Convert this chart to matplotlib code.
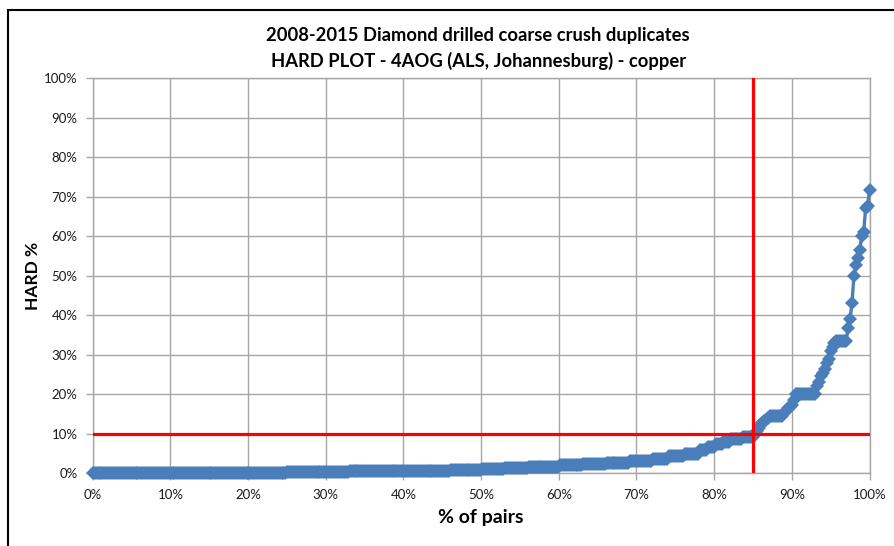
import matplotlib
matplotlib.use("Agg")
import matplotlib.pyplot as plt
import numpy as np
from matplotlib.patches import Rectangle
from matplotlib.ticker import PercentFormatter

plt.rcParams['font.family'] = ['Lato', 'DejaVu Sans']

# sorted HARD values (%) as runs: value, number of pairs
hard_vals = [0.0, 0.25, 0.55, 0.9,
             1.1, 1.4, 1.7, 2.0, 2.3, 2.7, 3.2, 3.7, 4.3, 5.0,
             5.8, 6.6, 7.4, 8.0, 8.7, 9.1,
             10.0, 10.8, 11.5, 12.2, 12.8, 13.2, 13.6, 14.0, 14.5,
             15.2, 15.8, 16.4, 16.8, 17.2, 18.5, 20.0,
             22.0, 23.0, 24.5, 25.3, 26.5, 27.8, 29.0, 31.0,
             32.0, 33.0, 33.5, 36.7, 39.0, 43.0,
             50.0, 52.6, 54.4, 56.5, 60.0, 61.0, 67.0, 67.6, 71.6]
hard_counts = [100, 32, 52, 16,
               12, 12, 16, 12, 12, 12, 12, 8, 8, 8,
               4, 4, 4, 4, 6, 6,
               1, 1, 1, 1, 1, 1, 1, 1, 7,
               1, 1, 1, 1, 1, 1, 11,
               1, 1, 1, 1, 1, 1, 1, 1,
               1, 1, 6, 1, 1, 1,
               1, 1, 1, 1, 1, 1, 1, 1, 1]

hard_limit = 10   # % HARD threshold
pairs_limit = 85  # % of pairs

hard = np.repeat(hard_vals, hard_counts)
pairs = np.arange(len(hard)) / (len(hard) - 1) * 100

fig = plt.figure(figsize=(8.94, 5.46), dpi=100)
ax = fig.add_axes([0.1037, 0.1332, 0.8689, 0.7239])

# outer chart border
fig.patches.append(Rectangle((7.5 / 894, -0.1), 1.2, 1 - 9.5 / 546 + 0.1,
                             transform=fig.transFigure, fill=False,
                             edgecolor='black', linewidth=1.5))

ax.plot(pairs, hard, color='#4A7EBB', linewidth=2.4, marker='D',
        markersize=7, markeredgewidth=0, zorder=3, clip_on=False)
ax.axhline(hard_limit, color='#FF0000', linewidth=2.3, zorder=4)
ax.axvline(pairs_limit, color='#FF0000', linewidth=2.3, zorder=4)

ax.set_xlim(0, 100)
ax.set_ylim(0, 100)
ax.set_xticks(np.arange(0, 101, 10))
ax.set_yticks(np.arange(0, 101, 10))
ax.xaxis.set_major_formatter(PercentFormatter(decimals=0))
ax.yaxis.set_major_formatter(PercentFormatter(decimals=0))
ax.grid(True, color='#A6A6A6', linewidth=1)
ax.set_axisbelow(True)
for s in ax.spines.values():
    s.set_color('#A6A6A6')
    s.set_linewidth(1)
ax.tick_params(colors='#A6A6A6', labelcolor='#1A1A1A', labelsize=9.5,
               length=5, width=1, pad=6)

ax.set_xlabel('% of pairs', fontsize=14, fontweight='bold', labelpad=6)
ax.set_ylabel('HARD %', fontsize=12.5, fontweight='bold', labelpad=2)
fig.text(0.535, 0.935, '2008-2015 Diamond drilled coarse crush duplicates',
         ha='center', va='center', fontsize=13.2, fontweight='bold')
fig.text(0.535, 0.888, 'HARD PLOT - 4AOG (ALS, Johannesburg) - copper',
         ha='center', va='center', fontsize=13.2, fontweight='bold')

fig.savefig('out.png', dpi=100)
